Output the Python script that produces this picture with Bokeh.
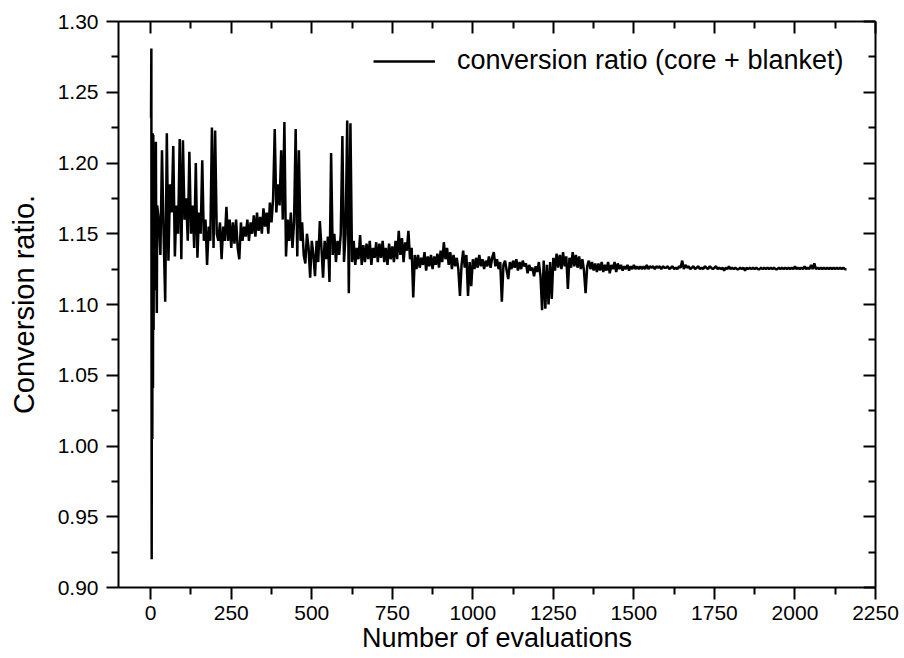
from bokeh.plotting import figure
from bokeh.models import Range1d, FixedTicker, LinearAxis, Legend, LegendItem, PrintfTickFormatter
from bokeh.embed import file_html
from bokeh.resources import INLINE

FONT = "Liberation Sans"

x_ticks = [0, 250, 500, 750, 1000, 1250, 1500, 1750, 2000, 2250]
x_minor = [125, 375, 625, 875, 1125, 1375, 1625, 1875, 2125]
y_ticks = [0.90, 0.95, 1.00, 1.05, 1.10, 1.15, 1.20, 1.25, 1.30]
y_minor = [0.925, 0.975, 1.025, 1.075, 1.125, 1.175, 1.225, 1.275]

series_label = "conversion ratio (core + blanket)"

# evaluations 1..20 individually, then every 5th evaluation up to 2160
evaluations = list(range(1, 21)) + list(range(25, 2161, 5))

ratio_early = [
    1.232, 1.281, 0.920, 1.185, 1.005, 1.221, 1.041, 1.220, 1.082, 1.190,
    1.128, 1.165, 1.110, 1.180, 1.140, 1.215, 1.150, 1.120, 1.094, 1.170,
]

ratio_main = [
    1.160, 1.135, 1.209, 1.150, 1.102, 1.221, 1.131, 1.185, 1.165, 1.212,
    1.134, 1.170, 1.150, 1.217, 1.132, 1.216, 1.160, 1.175, 1.145, 1.208,
    1.150, 1.170, 1.140, 1.200, 1.133, 1.165, 1.150, 1.202, 1.145, 1.160,
    1.128, 1.155, 1.145, 1.225, 1.140, 1.223, 1.150, 1.145, 1.158, 1.132,
    1.155, 1.145, 1.169, 1.145, 1.160, 1.140, 1.158, 1.143, 1.160, 1.140,
    1.132, 1.158, 1.145, 1.155, 1.148, 1.160, 1.145, 1.158, 1.150, 1.163,
    1.148, 1.165, 1.152, 1.162, 1.150, 1.168, 1.155, 1.165, 1.150, 1.172,
    1.158, 1.175, 1.224, 1.165, 1.185, 1.170, 1.209, 1.160, 1.229, 1.134,
    1.160, 1.145, 1.165, 1.140, 1.158, 1.224, 1.134, 1.209, 1.145, 1.158,
    1.135, 1.129, 1.150, 1.140, 1.119, 1.145, 1.135, 1.120, 1.145, 1.130,
    1.159, 1.140, 1.119, 1.145, 1.132, 1.148, 1.116, 1.207, 1.135, 1.150,
    1.130, 1.145, 1.135, 1.150, 1.219, 1.130, 1.150, 1.230, 1.108, 1.228,
    1.130, 1.145, 1.128, 1.140, 1.132, 1.149, 1.128, 1.142, 1.130, 1.143,
    1.132, 1.145, 1.128, 1.140, 1.133, 1.144, 1.130, 1.143, 1.133, 1.145,
    1.130, 1.140, 1.128, 1.143, 1.132, 1.141, 1.130, 1.145, 1.132, 1.152,
    1.135, 1.147, 1.130, 1.144, 1.138, 1.152, 1.132, 1.140, 1.105, 1.135,
    1.125, 1.135, 1.126, 1.133, 1.128, 1.137, 1.124, 1.134, 1.127, 1.135,
    1.125, 1.134, 1.128, 1.136, 1.126, 1.138, 1.130, 1.144, 1.132, 1.140,
    1.128, 1.137, 1.125, 1.135, 1.127, 1.133, 1.125, 1.106, 1.128, 1.138,
    1.126, 1.135, 1.106, 1.130, 1.113, 1.132, 1.125, 1.133, 1.126, 1.135,
    1.127, 1.132, 1.125, 1.131, 1.127, 1.134, 1.126, 1.133, 1.137, 1.127,
    1.132, 1.125, 1.130, 1.102, 1.128, 1.131, 1.124, 1.118, 1.130, 1.125,
    1.131, 1.126, 1.132, 1.124, 1.130, 1.125, 1.131, 1.127, 1.129, 1.122,
    1.128, 1.124, 1.126, 1.120, 1.127, 1.123, 1.130, 1.120, 1.096, 1.131,
    1.097, 1.128, 1.100, 1.130, 1.104, 1.133, 1.124, 1.136, 1.126, 1.135,
    1.125, 1.137, 1.127, 1.134, 1.111, 1.133, 1.126, 1.137, 1.127, 1.135,
    1.126, 1.134, 1.125, 1.132, 1.124, 1.108, 1.127, 1.131, 1.125, 1.130,
    1.124, 1.129, 1.123, 1.129, 1.124, 1.130, 1.123, 1.128, 1.124, 1.130,
    1.122, 1.128, 1.125, 1.130, 1.123, 1.129, 1.125, 1.128, 1.124, 1.127,
    1.125, 1.128, 1.124, 1.127, 1.125, 1.128, 1.125, 1.127, 1.125, 1.127,
    1.125, 1.127, 1.125, 1.128, 1.125, 1.127, 1.126, 1.127, 1.125, 1.127,
    1.126, 1.127, 1.125, 1.127, 1.126, 1.126, 1.127, 1.125, 1.126, 1.127,
    1.125, 1.126, 1.125, 1.127, 1.126, 1.131, 1.125, 1.128, 1.126, 1.127,
    1.125, 1.126, 1.127, 1.125, 1.126, 1.127, 1.125, 1.126, 1.125, 1.127,
    1.126, 1.125, 1.127, 1.126, 1.125, 1.126, 1.127, 1.125, 1.126, 1.125,
    1.126, 1.124, 1.126, 1.125, 1.127, 1.125, 1.126, 1.125, 1.126, 1.125,
    1.125, 1.126, 1.125, 1.126, 1.124, 1.126, 1.125, 1.126, 1.125, 1.126,
    1.125, 1.126, 1.125, 1.125, 1.126, 1.125, 1.126, 1.125, 1.126, 1.125,
    1.126, 1.125, 1.126, 1.125, 1.125, 1.126, 1.125, 1.126, 1.125, 1.126,
    1.125, 1.126, 1.125, 1.126, 1.125, 1.127, 1.125, 1.126, 1.125, 1.126,
    1.125, 1.127, 1.125, 1.126, 1.125, 1.128, 1.125, 1.129, 1.125, 1.126,
    1.125, 1.126, 1.125, 1.126, 1.125, 1.126, 1.125, 1.126, 1.125, 1.126,
    1.125, 1.126, 1.125, 1.126, 1.125, 1.126, 1.125, 1.125,
]

ratio = ratio_early + ratio_main
assert len(ratio) == len(evaluations)

p = figure(
    width=904, height=658,
    output_backend="svg", toolbar_location=None,
    x_range=Range1d(-100, 2250), y_range=Range1d(0.90, 1.30),
    min_border_left=118, min_border_right=29,
    min_border_top=21, min_border_bottom=71,
    x_axis_label="Number of evaluations",
    y_axis_label="Conversion ratio.",
)
p.outline_line_color = None
p.xgrid.visible = False
p.ygrid.visible = False
p.background_fill_color = "white"
p.border_fill_color = "white"

xticker = FixedTicker(ticks=x_ticks, minor_ticks=x_minor)
yticker = FixedTicker(ticks=y_ticks, minor_ticks=y_minor)


def style_axis(ax, outward=True):
    ax.axis_line_width = 2
    ax.axis_line_color = "black"
    ax.major_tick_line_width = 2
    ax.minor_tick_line_width = 2
    ax.major_tick_line_color = "black"
    ax.minor_tick_line_color = "black"
    if outward:
        ax.major_tick_out = 12
        ax.major_tick_in = 0
        ax.minor_tick_out = 7
        ax.minor_tick_in = 0
    else:
        ax.major_tick_out = 0
        ax.major_tick_in = 12
        ax.minor_tick_out = 0
        ax.minor_tick_in = 7
    ax.major_label_text_font = FONT
    ax.major_label_text_font_size = "21px"
    ax.major_label_text_color = "black"
    ax.axis_label_text_font = FONT
    ax.axis_label_text_font_size = "27px"
    ax.axis_label_text_font_style = "normal"
    ax.axis_label_text_color = "black"


xa = p.xaxis[0]
xa.ticker = xticker
xa.formatter = PrintfTickFormatter(format="%d")
style_axis(xa)
xa.major_label_standoff = 6
xa.axis_label_standoff = 0

ya = p.yaxis[0]
ya.ticker = yticker
ya.formatter = PrintfTickFormatter(format="%.2f")
style_axis(ya)
ya.axis_label_text_font_size = "29px"
ya.major_label_standoff = 8
ya.axis_label_standoff = 15

# mirror axes on top and right: ticks pointing inward, no labels drawn
top = LinearAxis(ticker=xticker)
style_axis(top, outward=False)
top.major_label_text_font_size = "0px"
top.major_label_text_color = None
top.major_label_standoff = 0
p.add_layout(top, "above")

right = LinearAxis(ticker=yticker)
style_axis(right, outward=False)
right.major_label_text_font_size = "0px"
right.major_label_text_color = None
right.major_label_standoff = 0
p.add_layout(right, "right")

r = p.line(evaluations, ratio, line_color="black", line_width=2.5)

legend = Legend(items=[LegendItem(label=series_label, renderers=[r])])
legend.location = (255, 511)
legend.border_line_color = None
legend.background_fill_alpha = 0
legend.label_text_font = FONT
legend.label_text_font_size = "27px"
legend.label_text_color = "black"
legend.glyph_width = 62
legend.label_standoff = 22
legend.margin = 0
legend.padding = 4
p.add_layout(legend)

open("out.html", "w").write(file_html(p, INLINE))
